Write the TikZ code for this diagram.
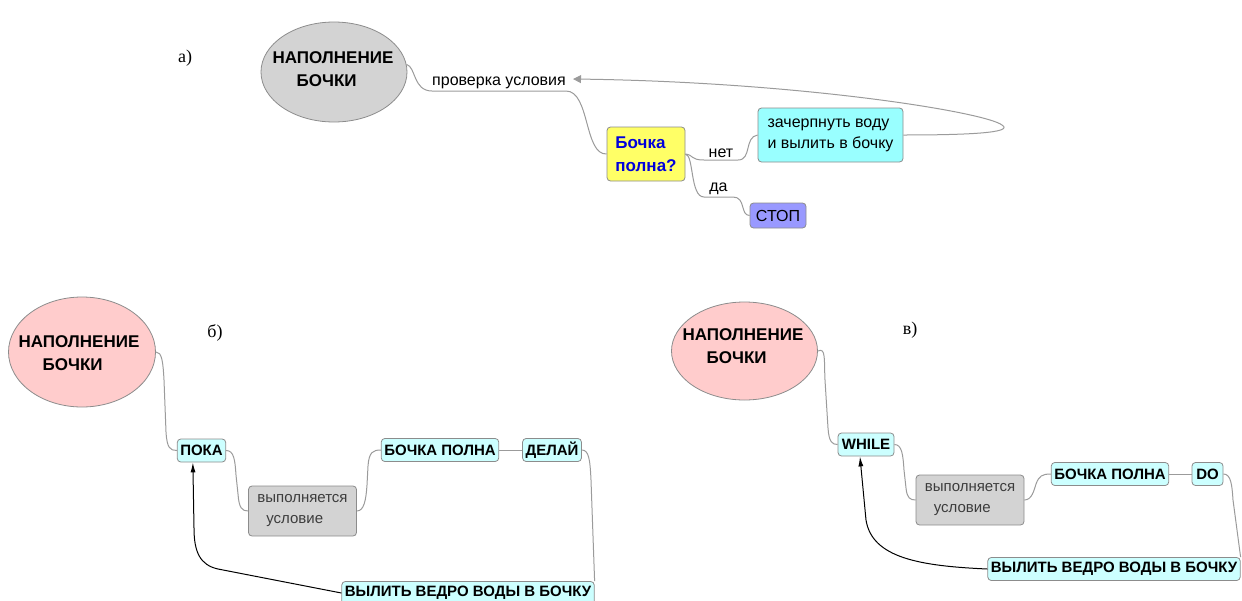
\documentclass[tikz,border=0pt]{standalone}
\usepackage{fontspec}
\setmainfont{Liberation Sans}
\newfontfamily\labfont{Liberation Serif}
\usetikzlibrary{shapes.geometric,arrows.meta}

\definecolor{lineGray}{RGB}{155,155,155}
\definecolor{edgeGray}{RGB}{140,140,140}
\definecolor{headGray}{RGB}{211,211,211}
\definecolor{headPink}{RGB}{255,204,204}
\definecolor{boxCyan}{RGB}{204,255,255}
\definecolor{boxAqua}{RGB}{153,255,255}
\definecolor{boxYellow}{RGB}{255,255,102}
\definecolor{boxBlue}{RGB}{153,153,255}
\definecolor{textBlue}{RGB}{0,0,220}
\definecolor{textGray}{RGB}{60,60,60}

\tikzset{
  tag/.style={inner sep=0pt, font=\labfont\fontsize{18}{20}\selectfont},
  headnode/.style={ellipse, draw=edgeGray, line width=0.8pt, inner sep=0pt, minimum width=146, minimum height=100},
  headtext/.style={align=left, inner sep=0pt, font=\fontsize{17}{23}\selectfont\bfseries},
  roundbox/.style={rectangle, rounded corners=3.5pt, draw=edgeGray, line width=0.8pt},
  kbox/.style={roundbox, fill=boxCyan, inner xsep=3pt, inner ysep=0pt, minimum height=23, font=\fontsize{15}{17}\selectfont\bfseries},
  condbox/.style={roundbox, fill=headGray, align=left, minimum width=108, minimum height=50, text=textGray, font=\fontsize{15}{21}\selectfont},
  lbl/.style={inner sep=2pt, font=\fontsize{16}{18}\selectfont},
  conn/.style={draw=lineGray, line width=1pt},
  loopline/.style={conn, -{Triangle[length=8pt,width=8pt]}},
  backarrow/.style={draw=black, line width=1pt, -{Latex[length=10pt,width=5pt]}}
}

\begin{document}
\begin{tikzpicture}[x=1pt,y=1pt,yscale=-1,xscale=1]
\useasboundingbox (0,0) rectangle (1242,600);

%%% a)
% Text Node
\draw (185,58) node [tag] (tagA) {а)};
%Shape: Ellipse
\node [headnode, fill=headGray] (A) at (334,72) {};
% Text Node
\node [headtext] (Atxt) at (333,69.5) {НАПОЛНЕНИЕ\\\hspace*{24pt}БОЧКИ};
%Rounded Rect
\node [roundbox, fill=boxYellow, align=left, minimum width=78, minimum height=54, text=textBlue, font=\fontsize{17}{23}\selectfont\bfseries] (qA) at (646,154) {Бочка\\полна?};
%Rounded Rect
\node [roundbox, fill=boxAqua, align=left, minimum width=145, minimum height=54, font=\fontsize{16}{21}\selectfont] (scoopA) at (830.5,135) {зачерпнуть воду\\и вылить в бочку};
%Rounded Rect
\node [roundbox, fill=boxBlue, minimum width=56, minimum height=25, inner sep=0pt, font=\fontsize{16}{18}\selectfont] (stopA) at (778,215.5) {СТОП};
\coordinate (backA) at (573,79);

%Curve Lines
\draw [conn] (A.6) .. controls (416,67) and (413,91) .. (432,91) -- node [lbl, above] (chkA) {проверка условия} (566,91) .. controls (590,91) and (584,155) .. (qA.west);
%Curve Lines
\draw [conn] (qA.east) .. controls (694,155) and (690,160) .. (704,160) -- node [lbl, above] (noA) {нет} (738,160) .. controls (752,160) and (744,137) .. (scoopA.west);
%Curve Lines
\draw [conn] (qA.east) .. controls (694,155) and (690,197) .. (704,197) -- node [lbl, above] (yesA) {да} (733,197) .. controls (746,197) and (740,215.5) .. (stopA.west);
%Curve Lines
\draw [loopline] (scoopA.east) .. controls (965,135) and (1015,133) .. (1002,125) .. controls (985,112) and (800,82) .. (backA);

%%% b)
% Text Node
\draw (215,333) node [tag] (tagB) {б)};
%Shape: Ellipse
\node [headnode, fill=headPink, minimum width=147, minimum height=110] (B) at (82,352) {};
% Text Node
\node [headtext] (Btxt) at (79,353) {НАПОЛНЕНИЕ\\\hspace*{24pt}БОЧКИ};
\node [kbox] (whileB) at (201.5,450.5) {ПОКА};
\node [condbox] (condB) at (302.5,511) {выполняется\\\hspace*{9pt}условие};
\node [kbox] (fullB) at (440,450) {БОЧКА ПОЛНА};
\node [kbox] (doB) at (552,450) {ДЕЛАЙ};
\node [kbox] (pourB) at (468,593) {ВЫЛИТЬ ВЕДРО ВОДЫ В БОЧКУ};

%Curve Lines
\draw [conn] (B.east) .. controls (162,352) and (163,362) .. (164,380) -- (166,432) .. controls (167,448) and (170,450.5) .. (whileB.west);
\draw [conn] (whileB.east) .. controls (234,450.5) and (235,460) .. (236,475) -- (238,494) .. controls (239,508) and (242,511) .. (condB.west);
\draw [conn] (condB.east) .. controls (364,511) and (366,500) .. (367,485) -- (368,466) .. controls (369,452) and (373,450) .. (fullB.west);
\draw [conn] (fullB) -- (doB);
\draw [conn] (doB.east) .. controls (589,450) and (590,460) .. (591,480) -- (pourB.north east);
%Arrow
\draw [backarrow] (pourB.west) -- (218,569) .. controls (200,565) and (194,552) .. (194,528) -- (whileB.234);

%%% c)
% Text Node
\draw (910,330) node [tag] (tagC) {в)};
%Shape: Ellipse
\node [headnode, fill=headPink, minimum width=146, minimum height=98] (C) at (744.5,351) {};
% Text Node
\node [headtext] (Ctxt) at (743,346.5) {НАПОЛНЕНИЕ\\\hspace*{24pt}БОЧКИ};
\node [kbox, minimum width=56] (whileC) at (866,444.5) {WHILE};
\node [condbox] (condC) at (970,500) {выполняется\\\hspace*{9pt}условие};
\node [kbox] (fullC) at (1110,474) {БОЧКА ПОЛНА};
\node [kbox, minimum width=31] (doC) at (1207.5,474) {DO};
\node [kbox] (pourC) at (1114,569) {ВЫЛИТЬ ВЕДРО ВОДЫ В БОЧКУ};

%Curve Lines
\draw [conn] (C.east) .. controls (826,347) and (824,360) .. (825,380) -- (828,428) .. controls (829,442) and (832,444.5) .. (whileC.west);
\draw [conn] (whileC.east) .. controls (902,444.5) and (903,455) .. (904,470) -- (906,488) .. controls (907,498) and (910,500) .. (condC.west);
\draw [conn] (condC.east) .. controls (1032,500) and (1034,490) .. (1036,484) .. controls (1039,476) and (1042,474) .. (fullC.west);
\draw [conn] (fullC) -- (doC);
\draw [conn] (doC.east) .. controls (1231,474) and (1232,485) .. (1233,500) -- (pourC.north east);
%Arrow
\draw [backarrow] (pourC.west) .. controls (920,566) and (872,558) .. (866,520) -- (whileC.243);

\end{tikzpicture}
\end{document}
